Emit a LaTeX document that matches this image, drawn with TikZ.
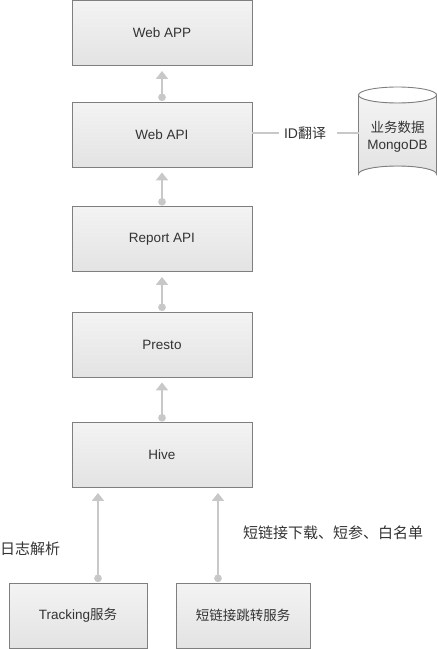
\documentclass[tikz,border=0pt]{standalone}
\usepackage{fontspec}
\setmainfont{Liberation Sans}
\newfontfamily\cjk{Noto Sans CJK SC}
\usetikzlibrary{arrows.meta,calc}
\definecolor{boxborder}{HTML}{7F7F7F}
\definecolor{boxtop}{HTML}{F3F3F3}
\definecolor{boxbot}{HTML}{E3E3E3}
\definecolor{arrowgray}{HTML}{C8C8C8}
\definecolor{txt}{HTML}{333333}
\begin{document}
\begin{tikzpicture}[x=1pt,y=-1pt,
  stagebox/.style={draw=boxborder, line width=0.9pt, top color=boxtop, bottom color=boxbot,
    minimum width=180pt, minimum height=65pt, inner sep=0pt, text=txt,
    font=\fontsize{13.5}{16}\selectfont},
  srcbox/.style={stagebox, minimum width=138pt},
  flow/.style={draw=arrowgray, line width=2.6pt,
    {Circle[length=7.5pt]}-{Triangle[width=12pt,length=8pt]},
    shorten <=0.5pt, shorten >=5pt},
  lbl/.style={text=txt, inner sep=0pt, font=\fontsize{14}{17}\selectfont},
  link/.style={draw=arrowgray, line width=1.5pt}
]
\useasboundingbox (0,0) rectangle (437,649);

\node[stagebox] (app)    at (162,33)    {Web APP};
\node[stagebox] (api)    at (162,134.5) {Web API};
\node[stagebox] (report) at (162,239)   {Report API};
\node[stagebox] (presto) at (162,344.5) {Presto};
\node[stagebox] (hive)   at (162,455)   {Hive};
\node[srcbox] (track) at (78,615.5) {Tracking{\cjk 服务}};
\node[srcbox, minimum width=134pt] (short) at (243,615.5) {\cjk 短链接跳转服务};

% cylinder
\fill[top color=boxtop, bottom color=boxbot] (358.5,95) -- (358.5,174) arc[start angle=180,end angle=360,x radius=39,y radius=8] -- (436.5,95) arc[start angle=0,end angle=180,x radius=39,y radius=8] -- cycle;
\draw[boxborder, line width=0.9pt] (358.5,95) -- (358.5,174) arc[start angle=180,end angle=360,x radius=39,y radius=8] -- (436.5,95) arc[start angle=0,end angle=180,x radius=39,y radius=8];
\draw[boxborder, line width=0.9pt] (358.5,95) arc[start angle=180,end angle=360,x radius=39,y radius=8];
\node[text=txt, align=center, font=\fontsize{13.5}{17}\selectfont] (db) at (397.5,137) {{\cjk 业务数据}\\MongoDB};
\coordinate (dbw) at (358.5,133);

\draw[flow] (api.north) -- (app.south);
\draw[flow] (report.north) -- (api.south);
\draw[flow] (presto.north) -- (report.south);
\draw[flow] (hive.north) -- (presto.south);
\draw[flow] ([xshift=20pt]track.north) -- ([xshift=20pt]track.north |- hive.south);
\draw[flow] ([xshift=-25pt]short.north) -- ([xshift=-25pt]short.north |- hive.south);

\node[lbl] (idt) at (305,133) {ID{\cjk 翻译}};
\draw[link] (api.east |- idt) -- ([xshift=-5pt]idt.west);
\draw[link] ([xshift=11pt]idt.east) -- (dbw);

\node[lbl, anchor=west, font=\fontsize{15}{17}\selectfont\cjk] (logp) at (0,549) {日志解析};
\node[lbl, anchor=west, font=\fontsize{15}{17}\selectfont\cjk] (shortp) at (243,533) {短链接下载、短参、白名单};
\end{tikzpicture}
\end{document}
